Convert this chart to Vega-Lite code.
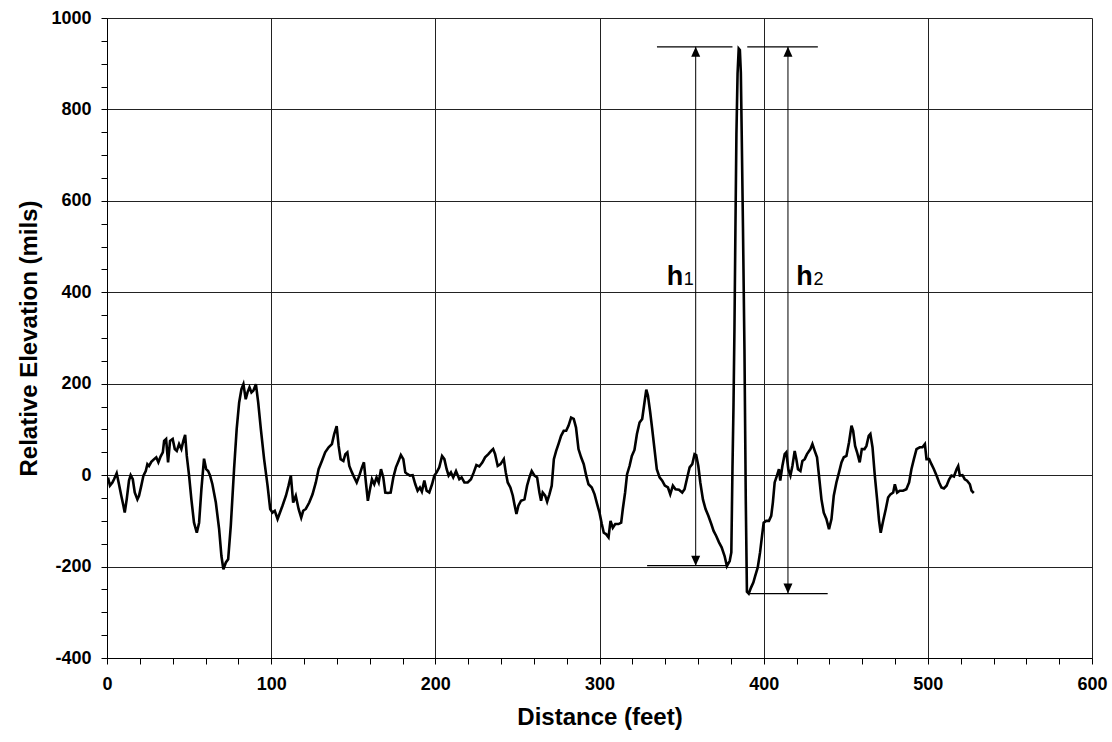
{
  "$schema": "https://vega.github.io/schema/vega-lite/v6.json",
  "width": 985,
  "height": 640,
  "autosize": "none",
  "padding": {"left": 107, "top": 18, "right": 20, "bottom": 84},
  "background": "white",
  "config": {
    "view": {"stroke": null},
    "font": "Liberation Sans",
    "axis": {
      "labelFont": "Liberation Sans",
      "labelFontWeight": "bold",
      "labelFontSize": 18,
      "labelColor": "black",
      "titleFont": "Liberation Sans",
      "titleFontWeight": "bold",
      "titleFontSize": 24,
      "titleColor": "black",
      "domainColor": "black",
      "domainWidth": 1,
      "tickColor": "black",
      "tickSize": 6,
      "tickWidth": 1,
      "gridColor": "#222222",
      "gridWidth": 1
    }
  },
  "datasets": {
    "profile": [
      {"x":0.6,"y":-5},{"x":1.8,"y":-23},{"x":3.3,"y":-16},{"x":4.3,"y":-9},{"x":5.9,"y":4},{"x":7.3,"y":-20},{"x":8.7,"y":-45},{"x":10,"y":-67},{"x":10.8,"y":-82},{"x":12,"y":-53},{"x":13.4,"y":-12},{"x":14.4,"y":0},{"x":15.7,"y":-9},{"x":16.9,"y":-38},{"x":18.5,"y":-53},{"x":19.5,"y":-45},{"x":20.9,"y":-23},{"x":22.2,"y":-1},{"x":23.6,"y":9},{"x":24.6,"y":24},{"x":25.6,"y":20},{"x":27,"y":29},{"x":28.7,"y":35},{"x":30,"y":39},{"x":31.3,"y":28},{"x":32.7,"y":41},{"x":34,"y":50},{"x":34.8,"y":75},{"x":36,"y":79},{"x":37.2,"y":28},{"x":38.4,"y":75},{"x":40,"y":79},{"x":41.3,"y":57},{"x":42.5,"y":53},{"x":43.9,"y":68},{"x":45.3,"y":57},{"x":46.5,"y":75},{"x":47.6,"y":88},{"x":48.6,"y":42},{"x":50,"y":-1},{"x":51.4,"y":-53},{"x":53,"y":-104},{"x":54.7,"y":-126},{"x":56.1,"y":-104},{"x":57.5,"y":-31},{"x":59.1,"y":36},{"x":60.4,"y":13},{"x":61.6,"y":9},{"x":62.8,"y":-1},{"x":64.2,"y":-20},{"x":66.3,"y":-60},{"x":68.3,"y":-118},{"x":69.7,"y":-177},{"x":70.9,"y":-206},{"x":72.4,"y":-191},{"x":73.8,"y":-184},{"x":75.4,"y":-111},{"x":77.4,"y":13},{"x":79,"y":101},{"x":80.5,"y":159},{"x":81.9,"y":188},{"x":83.1,"y":199},{"x":84.5,"y":166},{"x":85.6,"y":181},{"x":86.8,"y":192},{"x":88,"y":181},{"x":89.2,"y":185},{"x":90.7,"y":199},{"x":92.1,"y":159},{"x":93.7,"y":101},{"x":95.7,"y":35},{"x":97.8,"y":-23},{"x":99.4,"y":-74},{"x":100.8,"y":-82},{"x":102.2,"y":-78},{"x":103.9,"y":-96},
      {"x":106.9,"y":-67},{"x":109,"y":-45},{"x":110.6,"y":-23},{"x":112,"y":-1},{"x":113.4,"y":-60},{"x":115,"y":-45},{"x":116.7,"y":-74},{"x":118.3,"y":-93},{"x":119.5,"y":-78},{"x":121.1,"y":-74},{"x":123.2,"y":-60},{"x":125.2,"y":-42},{"x":127.2,"y":-16},{"x":128.9,"y":13},{"x":130.9,"y":31},{"x":132.9,"y":50},{"x":135,"y":61},{"x":137,"y":68},{"x":138.4,"y":90},{"x":139.9,"y":107},{"x":141.1,"y":64},{"x":142.3,"y":35},{"x":144,"y":31},{"x":145.2,"y":46},{"x":146.4,"y":50},{"x":147.6,"y":20},{"x":149.2,"y":6},{"x":150.6,"y":-5},{"x":152.1,"y":-16},{"x":153.7,"y":-1},{"x":155.3,"y":17},{"x":156.5,"y":28},{"x":157.7,"y":-16},{"x":158.9,"y":-56},{"x":160.2,"y":-31},{"x":161.4,"y":-9},{"x":162.8,"y":-20},{"x":164.2,"y":-5},{"x":165.5,"y":-16},{"x":166.9,"y":13},{"x":168.3,"y":-5},{"x":169.5,"y":-38},{"x":171.1,"y":-39},{"x":172.8,"y":-38},{"x":174.4,"y":-5},{"x":176,"y":17},{"x":177.6,"y":31},{"x":179,"y":44},{"x":180.5,"y":35},{"x":181.7,"y":6},{"x":183.1,"y":2},{"x":184.5,"y":-1},{"x":186.2,"y":0},{"x":187.8,"y":-20},{"x":189.2,"y":-34},{"x":190.6,"y":-27},{"x":191.8,"y":-36},{"x":193.3,"y":-12},{"x":194.7,"y":-34},{"x":196.3,"y":-38},{"x":198,"y":-20},{"x":199.4,"y":-1},{"x":200.8,"y":6},{"x":202.4,"y":17},{"x":204.1,"y":42},{"x":205.5,"y":35},{"x":206.9,"y":13},{"x":208.1,"y":-1},{"x":209.5,"y":6},{"x":210.9,"y":-5},{"x":212.6,"y":9},
      {"x":214.6,"y":-9},{"x":216,"y":-5},{"x":217.7,"y":-16},{"x":219.7,"y":-16},{"x":221.7,"y":-9},{"x":223.4,"y":6},{"x":225,"y":22},{"x":226.8,"y":19},{"x":228.7,"y":28},{"x":230.3,"y":39},{"x":232.3,"y":46},{"x":234,"y":53},{"x":235.2,"y":57},{"x":236.4,"y":46},{"x":238,"y":20},{"x":239.7,"y":24},{"x":241.7,"y":35},{"x":242.9,"y":6},{"x":244.1,"y":-16},{"x":245.7,"y":-27},{"x":247.2,"y":-45},{"x":248.2,"y":-64},{"x":249.4,"y":-85},{"x":250.6,"y":-67},{"x":252.2,"y":-56},{"x":254.3,"y":-53},{"x":255.9,"y":-23},{"x":257.3,"y":-5},{"x":258.7,"y":9},{"x":260.4,"y":-1},{"x":262,"y":-5},{"x":263.4,"y":-38},{"x":264.4,"y":-56},{"x":265.4,"y":-38},{"x":266.9,"y":-45},{"x":268.1,"y":-58},{"x":269.5,"y":-42},{"x":270.9,"y":-23},{"x":272.2,"y":35},{"x":273.6,"y":53},{"x":275,"y":68},{"x":276.6,"y":86},{"x":278.2,"y":97},{"x":279.7,"y":97},{"x":281.1,"y":108},{"x":282.7,"y":126},{"x":284.3,"y":123},{"x":285.7,"y":104},{"x":287.2,"y":57},{"x":288.8,"y":39},{"x":290.4,"y":24},{"x":291.9,"y":-1},{"x":293.3,"y":-20},{"x":295.3,"y":-27},{"x":297,"y":-42},{"x":298.6,"y":-64},{"x":300,"y":-82},{"x":301.4,"y":-107},{"x":302.6,"y":-126},{"x":304,"y":-129},{"x":305.5,"y":-136},{"x":306.7,"y":-100},{"x":308.1,"y":-115},{"x":309.6,"y":-107},{"x":311.6,"y":-107},{"x":313.2,"y":-104},{"x":314.2,"y":-74},{"x":315.6,"y":-38},{"x":316.8,"y":2},{"x":318.3,"y":20},{"x":319.7,"y":42},{"x":321.3,"y":55},
      {"x":322.8,"y":90},{"x":324.4,"y":115},{"x":326,"y":123},{"x":327.4,"y":159},{"x":328.5,"y":187},{"x":329.5,"y":174},{"x":330.9,"y":137},{"x":332.1,"y":101},{"x":333.5,"y":57},{"x":334.9,"y":13},{"x":336.6,"y":-5},{"x":338.2,"y":-12},{"x":339.8,"y":-23},{"x":341.7,"y":-27},{"x":343.1,"y":-42},{"x":344.7,"y":-23},{"x":346.3,"y":-31},{"x":348.4,"y":-32},{"x":350.4,"y":-38},{"x":351.8,"y":-31},{"x":353.2,"y":-9},{"x":354.9,"y":17},{"x":356.5,"y":24},{"x":357.9,"y":46},{"x":358.9,"y":44},{"x":360.2,"y":20},{"x":361.4,"y":-16},{"x":363,"y":-53},{"x":364.6,"y":-74},{"x":366.3,"y":-89},{"x":368.1,"y":-107},{"x":369.5,"y":-122},{"x":371.1,"y":-133},{"x":372.8,"y":-147},{"x":374.4,"y":-158},{"x":376.2,"y":-177},{"x":377.6,"y":-199},{"x":379.3,"y":-188},{"x":380.3,"y":-169},
      {"x":381,"y":15},{"x":381.6,"y":147},{"x":382.2,"y":318},{"x":382.8,"y":540},{"x":383.4,"y":745},{"x":384.1,"y":878},{"x":384.8,"y":933},{"x":385.5,"y":930},{"x":386.1,"y":880},{"x":386.6,"y":754},{"x":387.4,"y":540},{"x":388.3,"y":275},{"x":389.1,"y":-54},{"x":389.8,"y":-255},{"x":390.9,"y":-259},{"x":392.3,"y":-246},{"x":393.7,"y":-235},{"x":394.9,"y":-220},{"x":396.4,"y":-202},{"x":397.8,"y":-169},{"x":399,"y":-133},{"x":400,"y":-104},{"x":401.5,"y":-100},{"x":403.2,"y":-100},{"x":404.6,"y":-89},{"x":405.6,"y":-60},{"x":406.7,"y":-16},{"x":408.1,"y":-1},{"x":409.3,"y":13},{"x":410.1,"y":-12},{"x":411.4,"y":20},{"x":412.8,"y":46},{"x":413.8,"y":50},{"x":415,"y":13},{"x":416.3,"y":-1},{"x":417.5,"y":20},{"x":418.9,"y":53},{"x":419.9,"y":35},{"x":420.9,"y":13},{"x":422.4,"y":9},{"x":423.6,"y":31},{"x":425,"y":35},{"x":426.4,"y":46},
      {"x":428.5,"y":57},{"x":429.7,"y":68},{"x":431.1,"y":53},{"x":432.5,"y":39},{"x":433.7,"y":-1},{"x":435.2,"y":-53},{"x":436.6,"y":-82},{"x":438.2,"y":-96},{"x":439.8,"y":-118},{"x":441.3,"y":-96},{"x":442.7,"y":-45},{"x":444.3,"y":-16},{"x":445.9,"y":6},{"x":447.4,"y":28},{"x":448.8,"y":39},{"x":450.4,"y":42},{"x":452,"y":72},{"x":453.5,"y":108},{"x":454.5,"y":97},{"x":455.7,"y":64},{"x":456.9,"y":50},{"x":458.5,"y":28},{"x":459.8,"y":57},{"x":461.4,"y":57},{"x":462.6,"y":64},{"x":464,"y":86},{"x":465,"y":90},{"x":466.3,"y":61},{"x":467.7,"y":-1},{"x":469.1,"y":-53},{"x":470.3,"y":-100},{"x":471.3,"y":-126},{"x":472.8,"y":-100},{"x":474.4,"y":-74},{"x":475.8,"y":-49},{"x":477.2,"y":-42},{"x":478.9,"y":-38},{"x":479.9,"y":-20},{"x":481.3,"y":-38},{"x":482.9,"y":-34},{"x":484.9,"y":-34},{"x":486.9,"y":-31},{"x":488.6,"y":-16},{"x":490,"y":13},{"x":491.5,"y":35},{"x":493.1,"y":57},{"x":495.1,"y":61},{"x":496.7,"y":61},{"x":498.2,"y":68},{"x":499.2,"y":35},{"x":500.8,"y":35},{"x":502.2,"y":24},{"x":503.7,"y":13},{"x":505.3,"y":-1},{"x":506.9,"y":-16},{"x":508.3,"y":-27},{"x":509.8,"y":-29},{"x":511.4,"y":-23},{"x":513,"y":-9},{"x":514.4,"y":-1},{"x":515.9,"y":-3},{"x":517.5,"y":13},{"x":518.5,"y":20},{"x":519.5,"y":-1},{"x":521.1,"y":0},{"x":522.5,"y":-9},{"x":523.9,"y":-12},{"x":525.6,"y":-20},{"x":526.6,"y":-34},{"x":528,"y":-39}
    ],
    "hlines": [
      {"x":335,"x2":381,"y":937},
      {"x":390,"x2":433,"y":937},
      {"x":329,"x2":378,"y":-198},
      {"x":391,"x2":439,"y":-259}
    ],
    "vlines": [
      {"x":358.6,"y":937,"y2":-198},
      {"x":414.8,"y":937,"y2":-259}
    ],
    "tipsUp": [
      {"x":358.6,"y":937},
      {"x":414.8,"y":937}
    ],
    "tipsDown": [
      {"x":358.6,"y":-198},
      {"x":414.8,"y":-259}
    ],
    "hLabels": [
      {"x":340.9,"y":415,"t":"h"},
      {"x":419.9,"y":415,"t":"h"}
    ],
    "subLabels": [
      {"x":351.3,"y":415,"t":"1"},
      {"x":430.3,"y":415,"t":"2"}
    ]
  },
  "encoding": {
    "x": {
      "field": "x",
      "type": "quantitative",
      "title": "Distance (feet)",
      "scale": {"domain": [0, 600], "nice": false, "zero": false},
      "axis": {
        "values": [0,20,40,60,80,100,120,140,160,180,200,220,240,260,280,300,320,340,360,380,400,420,440,460,480,500,520,540,560,580,600],
        "labelExpr": "datum.value % 100 === 0 ? '' + datum.value : ''",
        "gridOpacity": {"condition": {"test": "datum.value % 100 === 0", "value": 1}, "value": 0},
        "labelPadding": 11,
        "titlePadding": 12,
        "labelFlush": false
      }
    },
    "y": {
      "field": "y",
      "type": "quantitative",
      "title": "Relative Elevation (mils)",
      "scale": {"domain": [-400, 1000], "nice": false, "zero": false},
      "axis": {
        "values": [-400,-350,-300,-250,-200,-150,-100,-50,0,50,100,150,200,250,300,350,400,450,500,550,600,650,700,750,800,850,900,950,1000],
        "labelExpr": "datum.value % 200 === 0 ? '' + datum.value : ''",
        "gridOpacity": {"condition": {"test": "datum.value % 200 === 0", "value": 1}, "value": 0},
        "labelPadding": 10,
        "titlePadding": 9,
        "labelFlush": false
      }
    }
  },
  "layer": [
    {
      "data": {"name": "profile"},
      "mark": {"type": "line", "color": "black", "strokeWidth": 2.6, "strokeJoin": "miter", "clip": true}
    },
    {
      "data": {"name": "hlines"},
      "mark": {"type": "rule", "color": "black", "strokeWidth": 1.3},
      "encoding": {"x2": {"field": "x2"}}
    },
    {
      "data": {"name": "vlines"},
      "mark": {"type": "rule", "color": "black", "strokeWidth": 1},
      "encoding": {"y2": {"field": "y2"}}
    },
    {
      "data": {"name": "tipsUp"},
      "mark": {"type": "point", "shape": "M0,0L-0.45,1L0.45,1Z", "filled": true, "color": "black", "opacity": 1, "size": 400}
    },
    {
      "data": {"name": "tipsDown"},
      "mark": {"type": "point", "shape": "M0,0L-0.45,-1L0.45,-1Z", "filled": true, "color": "black", "opacity": 1, "size": 400}
    },
    {
      "data": {"name": "hLabels"},
      "mark": {"type": "text", "align": "left", "baseline": "alphabetic", "font": "Liberation Sans", "fontWeight": "bold", "fontSize": 27, "color": "black"},
      "encoding": {"text": {"field": "t"}}
    },
    {
      "data": {"name": "subLabels"},
      "mark": {"type": "text", "align": "left", "baseline": "alphabetic", "font": "Liberation Sans", "fontSize": 18, "color": "black"},
      "encoding": {"text": {"field": "t"}}
    }
  ]
}
